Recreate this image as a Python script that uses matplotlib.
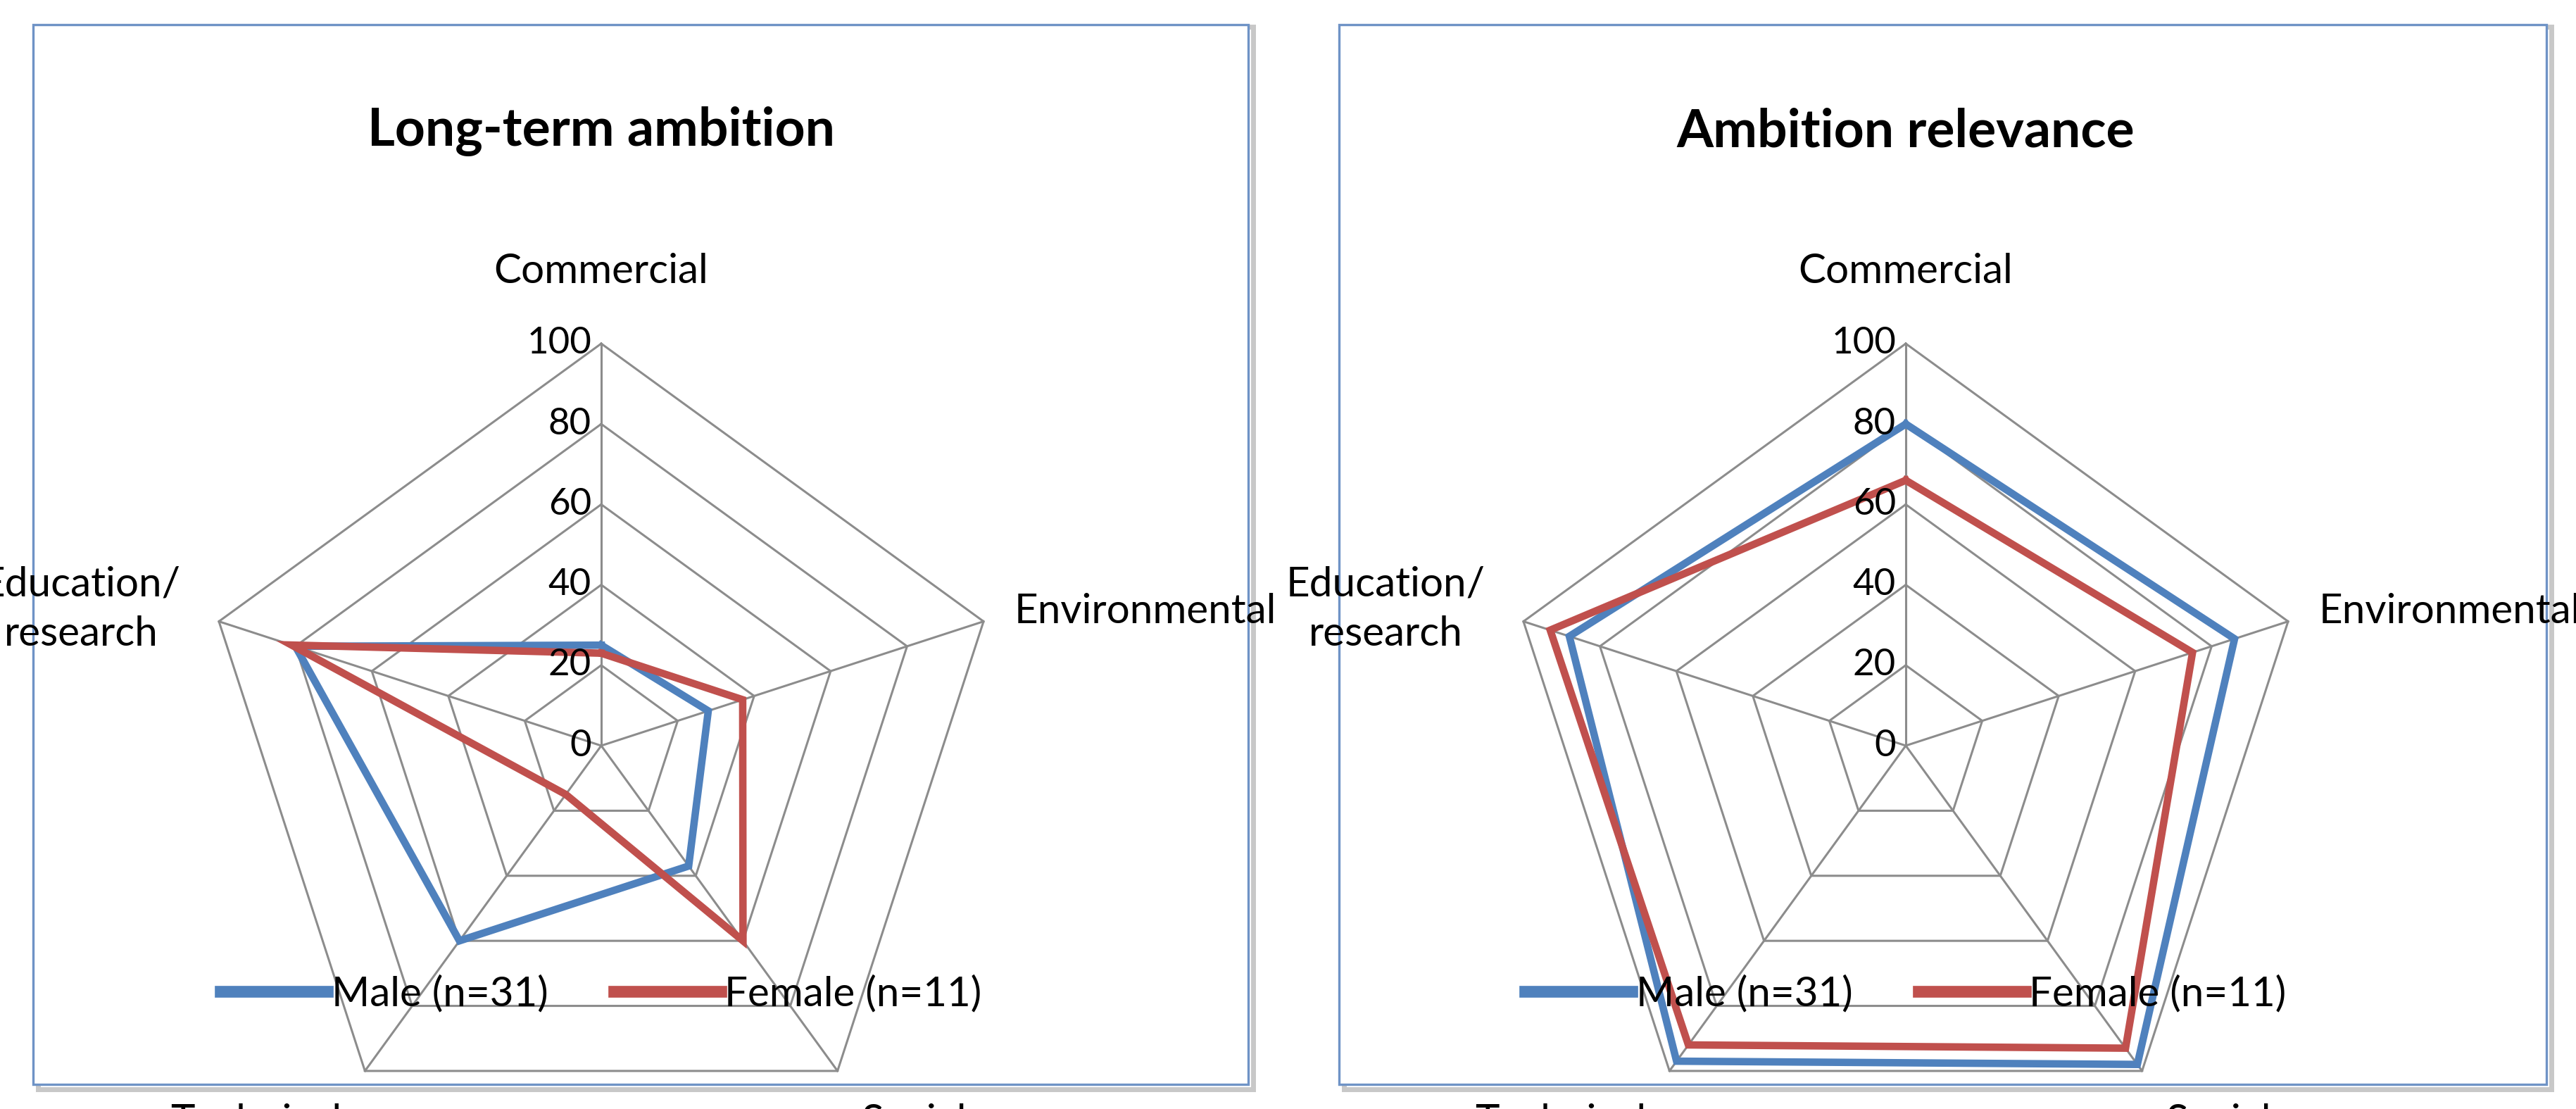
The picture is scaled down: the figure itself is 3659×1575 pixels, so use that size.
import numpy as np
import matplotlib
matplotlib.use("Agg")
import matplotlib.pyplot as plt
from matplotlib.patches import Rectangle
from matplotlib.lines import Line2D

categories = ["Commercial", "Environmental", "Social", "Technical", "Education/\nresearch"]
ticks = [0, 20, 40, 60, 80, 100]
series_names = ["Male (n=31)", "Female (n=11)"]

longterm_male = [25, 28, 37, 60, 80]
longterm_female = [23, 37, 60, 15, 81]
relevance_male = [80, 86, 98, 97, 88]
relevance_female = [66, 75, 93, 92, 93]

BLUE = "#4F81BD"
RED = "#C0504D"
GRID = "#8c8c8c"
plt.rcParams["font.family"] = ["Lato", "DejaVu Sans"]

W, H = 3659, 1575
fig = plt.figure(figsize=(W / 200, H / 200), dpi=200)

R_PX = 571


def panel(x0, x1, cx, title, male, female):
    # framed panel (behind the axes)
    fig.patches.append(Rectangle((x0 / W + 0.002, 0.018), (x1 - x0) / W, 1 - 35 / H - 0.02,
                                 transform=fig.transFigure, fc="none", ec="#c8c8c8", lw=2.5, zorder=-2))
    fig.patches.append(Rectangle((x0 / W, 0.022), (x1 - x0) / W, 1 - 35 / H - 0.022,
                                 transform=fig.transFigure, fc="white", ec="#6f93c6", lw=1.2, zorder=-1))
    fig.text(cx / W, 1 - 187 / H, title, ha="center", va="center", fontsize=27, fontweight="bold")

    cy = 1059
    ax = fig.add_axes([(cx - R_PX) / W, (H - cy - R_PX) / H, 2 * R_PX / W, 2 * R_PX / H],
                      projection="polar")
    ax.set_theta_offset(np.pi / 2)
    ax.set_theta_direction(-1)
    ax.set_ylim(0, 100)
    ax.axis("off")
    ax.patch.set_alpha(0)

    n = len(categories)
    ang = np.linspace(0, 2 * np.pi, n, endpoint=False)
    closed = np.append(ang, ang[0])
    for t in ticks[1:]:
        ax.plot(closed, [t] * (n + 1), color=GRID, lw=1.1, zorder=1, clip_on=False)
    for a in ang:
        ax.plot([a, a], [0, 100], color=GRID, lw=1.1, zorder=1, clip_on=False)

    ax.plot(closed, male + male[:1], color=BLUE, lw=3.8, zorder=3,
            solid_joinstyle="miter", clip_on=False)
    ax.plot(closed, female + female[:1], color=RED, lw=3.8, zorder=4,
            solid_joinstyle="miter", clip_on=False)

    # radial tick labels just left of the vertical axis
    for t in ticks:
        ax.annotate(str(t), xy=(0, t), xytext=(-5, 0), textcoords="offset points",
                    ha="right", va="center", fontsize=19, zorder=5, annotation_clip=False)

    # category labels
    place = [
        (0, 118, "center", "center"),
        (ang[1], 108, "left", "center"),
        (ang[2], 110, "left", "top"),
        (ang[3], 110, "right", "top"),
        (ang[4], 110, "right", "center"),
    ]
    for (a, r, ha, va), lab in zip(place, categories):
        ax.text(a, r, lab, ha=ha, va=va, fontsize=21, multialignment="center",
                linespacing=1.4, clip_on=False)

    handles = [Line2D([], [], color=BLUE, lw=6), Line2D([], [], color=RED, lw=6)]
    fig.legend(handles, series_names, loc="center", ncol=2,
               bbox_to_anchor=(cx / W, 1 - 1412 / H), frameon=False, fontsize=21,
               handlelength=2.6, columnspacing=1.6, handletextpad=0.1)


panel(47, 1773, 854, "Long-term ambition", longterm_male, longterm_female)
panel(1902, 3617, 2707, "Ambition relevance", relevance_male, relevance_female)

fig.savefig("out.png", dpi=200, facecolor="white")
